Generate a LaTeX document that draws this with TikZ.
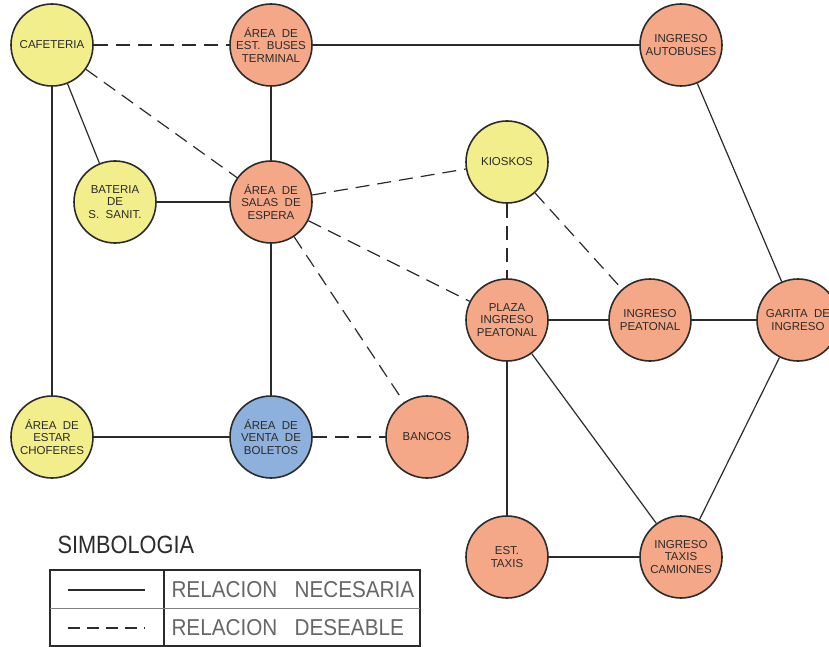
\documentclass[tikz,border=0pt]{standalone}
\usepackage{fontspec}
\setmainfont{Liberation Sans}
\usepackage{tikz}
\definecolor{zonaAmarilla}{HTML}{F3EE8C}
\definecolor{zonaSalmon}{HTML}{F5A887}
\definecolor{zonaAzul}{HTML}{8DB1DC}
\definecolor{trazo}{HTML}{2B2B2B}
\definecolor{textoGris}{HTML}{666666}
\tikzset{
  zona/.style={circle,draw=trazo,line width=1.6pt,minimum size=82pt,inner sep=0pt,
    align=center,text=trazo,font=\fontsize{11.5}{12.8}\selectfont},
  amarilla/.style={zona,fill=zonaAmarilla},
  salmon/.style={zona,fill=zonaSalmon},
  azul/.style={zona,fill=zonaAzul},
  necesaria/.style={draw=trazo,line width=1.2pt},
  deseable/.style={draw=trazo,line width=1.2pt,dash pattern=on 14pt off 8pt},
  tabla/.style={draw=trazo,line width=1.3pt},
  leyenda/.style={anchor=west,text=textoGris,font=\fontsize{23}{23}\selectfont}
}
\begin{document}
\begin{tikzpicture}[x=1pt, y=-1pt, node distance=0pt]
\useasboundingbox (0,0) rectangle (829,647);
\node[amarilla] (caf) at (52,45) {CAFETERIA};
\node[salmon, right of=caf, xshift=219pt] (bus) {ÁREA\ \ DE\\EST.\ \ BUSES\\TERMINAL};
\node[salmon, right of=bus, xshift=410pt] (aut) {INGRESO\\AUTOBUSES};
\node[salmon, below of=bus, yshift=-157pt] (sal) {ÁREA\ \ DE\\SALAS\ \ DE\\ESPERA};
\node[amarilla, left of=sal, xshift=-156pt] (bat) {BATERIA\\DE\\S.\ \ SANIT.};
\node[amarilla, right of=sal, xshift=236pt, yshift=40pt] (kio) {KIOSKOS};
\node[salmon, below of=kio, yshift=-158pt] (pla) {PLAZA\\INGRESO\\PEATONAL};
\node[salmon, right of=pla, xshift=143pt] (ipe) {INGRESO\\PEATONAL};
\node[salmon, right of=ipe, xshift=148pt] (gar) {GARITA\ \ DE\\INGRESO};
\node[azul, below of=sal, yshift=-235pt] (ven) {ÁREA\ \ DE\\VENTA\ \ DE\\BOLETOS};
\node[amarilla, left of=ven, xshift=-219pt] (est) {ÁREA\ \ DE\\ESTAR\\CHOFERES};
\node[salmon, right of=ven, xshift=156pt] (ban) {BANCOS};
\node[salmon, below of=pla, yshift=-237pt] (tax) {EST.\\TAXIS};
\node[salmon, right of=tax, xshift=174pt] (itc) {INGRESO\\TAXIS\\CAMIONES};

% relaciones necesarias
\draw[necesaria] (bus) -- (aut);
\draw[necesaria] (caf) -- (bat);
\draw[necesaria] (caf) -- (est);
\draw[necesaria] (bus) -- (sal);
\draw[necesaria] (bat) -- (sal);
\draw[necesaria] (sal) -- (ven);
\draw[necesaria] (est) -- (ven);
\draw[necesaria] (pla) -- (ipe);
\draw[necesaria] (ipe) -- (gar);
\draw[necesaria] (aut) -- (gar);
\draw[necesaria] (pla) -- (tax);
\draw[necesaria] (pla) -- (itc);
\draw[necesaria] (tax) -- (itc);
\draw[necesaria] (gar) -- (itc);

% relaciones deseables
\draw[deseable] (caf) -- (bus);
\draw[deseable] (caf) -- (sal);
\draw[deseable] (sal) -- (kio);
\draw[deseable] (sal) -- (pla);
\draw[deseable] (sal) -- (ban);
\draw[deseable] (ven) -- (ban);
\draw[deseable] (kio) -- (pla);
\draw[deseable] (kio) -- (ipe);

% simbologia
\node[anchor=base west, text=trazo, font=\fontsize{25}{25}\selectfont] (sim) at (54,553)
  {\scalebox{0.87}[1]{SIMBOLOGIA}};
\draw[tabla] (50,570) rectangle (420,646);
\draw[tabla] (164,570) -- (164,646);
\draw[draw=trazo!60, line width=0.8pt] (50,608) -- (420,608);
\coordinate (n1) at (68,590);
\coordinate (n2) at (145,590);
\coordinate (d1) at (68,628);
\coordinate (d2) at (145,628);
\draw[necesaria] (n1) -- (n2);
\draw[deseable, dash pattern=on 12pt off 7pt] (d1) -- (d2);
\node[leyenda] (rn) at (168,590) {\scalebox{0.9}[1]{RELACION\ \ \ NECESARIA}};
\node[leyenda] (rd) at (168,628) {\scalebox{0.9}[1]{RELACION\ \ \ DESEABLE}};
\end{tikzpicture}
\end{document}
